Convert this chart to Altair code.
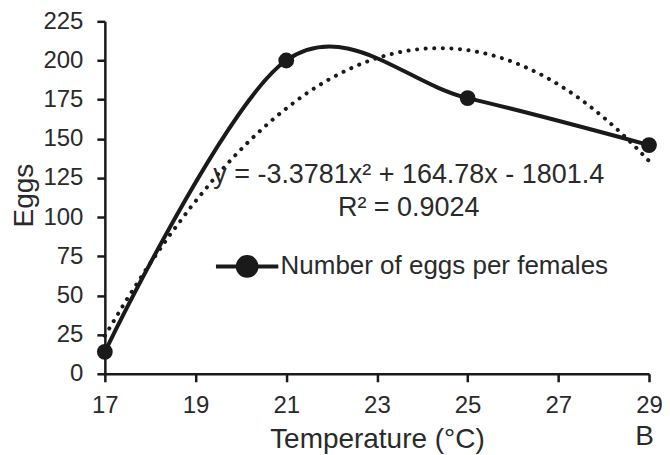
import altair as alt
import pandas as pd

temps = [17, 21, 25, 29]
eggs = [14, 200, 176, 146]
series_name = "Number of eggs per females"
x_ticks = [17, 19, 21, 23, 25, 27, 29]
y_ticks = [0, 25, 50, 75, 100, 125, 150, 175, 200, 225]
equation_lines = ["y = -3.3781x\u00b2 + 164.78x - 1801.4", "R\u00b2 = 0.9024"]
equation_x = [23.7, 23.7]
equation_y = [127, 106]
panel_label = ["B"]

df = pd.DataFrame({"Temperature": temps, "Eggs": eggs, "series": [series_name] * len(temps)})
eq_df = pd.DataFrame({"text": equation_lines, "x": equation_x, "y": equation_y})

FONT = "Liberation Sans"
TXT = "#2a2a2a"
INK = "#1a1a1a"

xs = alt.Scale(domain=[17, 29], nice=False)
ys = alt.Scale(domain=[0, 225], nice=False)

xaxis = alt.Axis(values=x_ticks, title="Temperature (\u00b0C)", grid=False,
                 labelOverlap=False, labelFlush=False)
yaxis = alt.Axis(values=y_ticks, title="Eggs", grid=False,
                 labelOverlap=False, labelFlush=False)


def enc(xf, yf):
    return dict(
        x=alt.X(xf, scale=xs, axis=xaxis),
        y=alt.Y(yf, scale=ys, axis=yaxis),
    )


base = alt.Chart(df)

trend = base.transform_regression(
    "Temperature", "Eggs", method="poly", order=2, extent=[17, 29]
).mark_line(
    color=INK, strokeWidth=4, strokeDash=[0.1, 8.5], strokeCap="round"
).encode(**enc("Temperature:Q", "Eggs:Q"))

legend_symbol = "M-1,0H1M-0.3,0A0.3,0.3 0 1,0 0.3,0A0.3,0.3 0 1,0 -0.3,0Z"

line = base.mark_line(interpolate="cardinal", tension=0, strokeWidth=4).encode(
    **enc("Temperature:Q", "Eggs:Q"),
    color=alt.Color(
        "series:N",
        scale=alt.Scale(range=[INK]),
        legend=alt.Legend(
            title=None,
            orient="none",
            legendX=109,
            legendY=212,
            padding=0,
            symbolType=legend_symbol,
            symbolSize=3900,
            symbolStrokeWidth=4,
            symbolFillColor=INK,
            symbolStrokeColor=INK,
            labelFontSize=26,
            labelFont=FONT,
            labelColor=TXT,
            labelOffset=0,
            labelLimit=600,
        ),
    ),
)

pts = base.mark_point(filled=True, size=250, color=INK, opacity=1).encode(
    **enc("Temperature:Q", "Eggs:Q")
)

eq = alt.Chart(eq_df).mark_text(
    fontSize=27, font=FONT, color=TXT, align="center", baseline="middle"
).encode(
    **enc("x:Q", "y:Q"),
    text="text:N",
)

panel = alt.Chart(pd.DataFrame({"t": panel_label, "x": [28.9], "y": [-45.5]})).mark_text(
    fontSize=28, font=FONT, color=TXT, align="center", baseline="alphabetic"
).encode(
    **enc("x:Q", "y:Q"),
    text="t:N",
)

chart = alt.layer(trend, line, pts, eq, panel).properties(
    width=545,
    height=353,
    autosize=alt.AutoSizeParams(type="none"),
    padding={"left": 97, "top": 13, "right": 13, "bottom": 80},
).configure_view(stroke=None).configure_axis(
    domainColor=INK,
    domainWidth=2.5,
    tickColor=INK,
    tickWidth=2.5,
    tickSize=8,
    labelFont=FONT,
    labelFontSize=24,
    labelColor=TXT,
    labelBound=False,
    titleFont=FONT,
    titleFontSize=28,
    titleFontWeight="normal",
    titleColor=TXT,
).configure_axisY(
    labelPadding=14, titleBaseline="alphabetic", titleX=-72, titleY=174
).configure_axisX(
    labelPadding=12, titleBaseline="alphabetic", titleY=74
)

chart.save("out.html", embed_options={"renderer": "svg", "actions": False})
